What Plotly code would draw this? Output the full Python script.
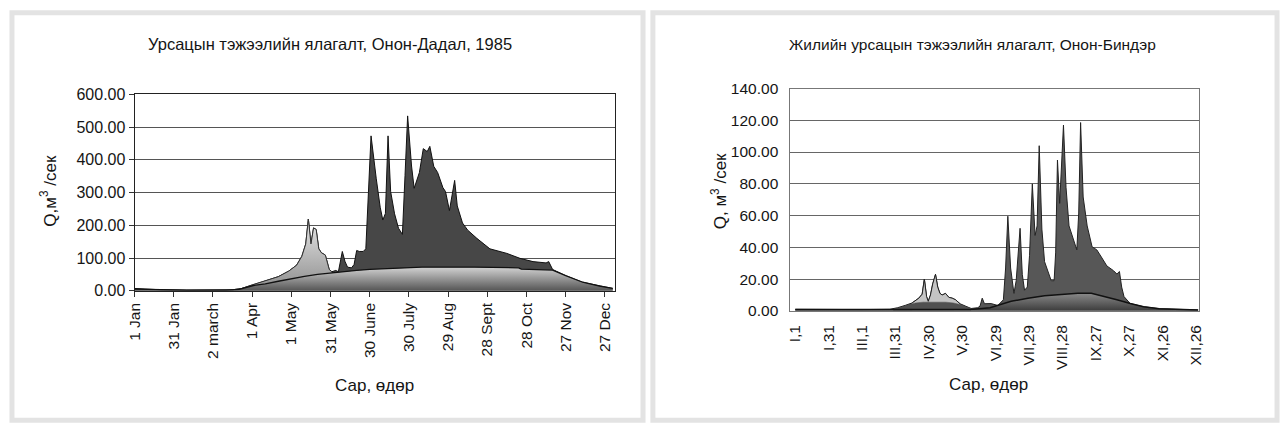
import plotly.graph_objects as go

W, H = 1285, 432

# ---------------- Онон-Дадал, 1985 (left) ----------------
dd_tick_days = [0, 30, 60, 90, 120, 150, 180, 210, 240, 270, 300, 330, 360]
dd_tick_text = ["1 Jan", "31 Jan", "2 march", "1 Apr", "1 May", "31 May", "30 June",
                "30 July", "29 Aug", "28 Sept", "28 Oct", "27 Nov", "27 Dec"]

dd_days = [0, 10, 20, 40, 60, 75, 82, 90, 100, 110, 118, 124, 128, 131, 133, 135, 137,
           139, 141, 143, 146, 149, 151, 154, 156, 159, 161, 163, 166, 168, 170, 172,
           175, 177, 178, 179, 181, 183, 185, 188, 190, 192, 194, 196, 199, 202, 205,
           207, 209, 212, 214, 218, 221, 224, 226, 229, 232, 236, 238, 241, 245, 247,
           251, 255, 262, 272, 285, 295, 305, 315, 317, 320, 330, 343, 356, 366]
dd_total = [7, 5, 3, 2, 2, 3, 7, 18, 30, 43, 60, 78, 105, 143, 219, 143, 192,
            187, 128, 116, 109, 65, 58, 62, 58, 120, 90, 72, 70, 80, 123, 120,
            120, 128, 200, 300, 473, 400, 342, 255, 216, 236, 473, 303, 235, 191, 172,
            352, 534, 381, 313, 361, 434, 425, 441, 380, 361, 315, 303, 245, 337, 259,
            207, 185, 160, 128, 114, 99, 89, 85, 89, 65, 46, 26, 14, 7]
dd_snow_from, dd_snow_to = 75, 151

dd_base_days = [0, 20, 40, 70, 80, 91, 100, 110, 120, 130, 140, 151, 160, 170, 180,
                190, 204, 220, 260, 294, 296, 318, 320, 330, 343, 356, 366]
dd_base = [5, 3, 2, 2, 4, 16, 21, 29, 37, 44, 50, 55, 59, 62, 65,
           67, 70, 72, 72, 70, 66, 64, 63, 46, 26, 14, 7]

# ---------------- Онон-Биндэр (right) ----------------
rb_tick_days = [0, 30, 60, 90, 120, 150, 180, 210, 240, 270, 300, 330, 360]
rb_tick_text = ["I,1", "I,31", "III,1", "III,31", "IV,30", "V,30", "VI,29", "VII,29",
                "VIII,28", "IX,27", "X,27", "XI,26", "XII,26"]

rb_days = [0, 30, 60, 85, 92, 99, 105, 111, 114, 116, 118, 119.5, 121.5, 123.5, 126,
           128, 130, 132, 135, 138, 141, 144, 148, 153, 158, 164, 166, 168, 170, 176,
           182, 187, 189, 191, 193.5, 196.5, 198.5, 202, 204, 206, 208.5, 210.5, 213,
           215.5, 217.3, 219.2, 221.6, 224, 227, 230, 232.6, 234, 235.6, 237.6, 241,
           243.3, 246, 250.4, 253, 254.7, 256.4, 258.7, 262.3, 266.7, 271, 275.6, 280,
           286, 289, 291.3, 293.3, 295.4, 299, 301, 313, 327, 342, 354, 362]
rb_total = [1.0, 0.8, 0.8, 1.0, 2, 3.5, 5, 8, 10.5, 20, 9, 6, 10, 17, 23,
            15, 11, 10, 11, 8.5, 8, 7, 4.5, 3, 1.5, 2, 3, 8, 4.5, 4.6,
            3.4, 7, 27, 59.6, 27, 11, 19, 52, 23, 13, 15, 35, 80,
            47.5, 53.5, 104, 51.5, 31, 25, 19, 19, 37, 95, 67.7, 117,
            77.8, 53.5, 43.4, 38.4, 61.6, 118.6, 71.7, 53.5, 40.4, 38.4, 33.3, 28.3,
            25.3, 23.2, 24.8, 15, 9, 6, 4.6, 2.6, 1.4, 1.0, 0.8, 0.6]
rb_snow_from, rb_snow_to = 105, 150

rb_spring_days = [88, 97, 103, 108, 115, 125, 135, 142, 148, 153, 158]
rb_spring_low = [1, 2.5, 4, 5, 5.5, 5.5, 5.5, 5, 4, 2.5, 1.5]

rb_base_days = [0, 60, 90, 150, 160, 175, 187, 194, 209, 224, 239, 254, 266, 278, 289,
                301, 313, 327, 342, 354, 362]
rb_base = [0.8, 0.8, 0.8, 0.8, 1.0, 2.0, 4.5, 6, 8, 9.5, 10.3, 11.1, 11.1, 9.1, 7,
           4.6, 2.6, 1.4, 1.0, 0.8, 0.6]


def px(x):
    return x / W


def py(y):
    return 1 - y / H


fig = go.Figure()

# left chart traces
fig.add_trace(go.Scatter(x=dd_days, y=dd_total, mode="lines", fill="tozeroy",
                         fillcolor="#474747", line=dict(color="#111111", width=1),
                         xaxis="x", yaxis="y", showlegend=False, hoverinfo="skip"))
snow_x = [d for d in dd_days if dd_snow_from <= d <= dd_snow_to]
snow_y = [q for d, q in zip(dd_days, dd_total) if dd_snow_from <= d <= dd_snow_to]
fig.add_trace(go.Scatter(x=snow_x, y=snow_y, mode="lines", fill="tozeroy",
                         fillgradient=dict(type="vertical",
                                           colorscale=[[0, "#8e8e8e"], [1, "#e6e6e6"]]),
                         line=dict(color="#333333", width=1),
                         xaxis="x", yaxis="y", showlegend=False, hoverinfo="skip"))
fig.add_trace(go.Scatter(x=dd_base_days, y=dd_base, mode="lines", fill="tozeroy",
                         fillgradient=dict(type="vertical",
                                           colorscale=[[0, "#555555"], [1, "#d2d2d2"]]),
                         line=dict(color="#111111", width=1.3),
                         xaxis="x", yaxis="y", showlegend=False, hoverinfo="skip"))

# right chart traces
fig.add_trace(go.Scatter(x=rb_days, y=rb_total, mode="lines", fill="tozeroy",
                         fillcolor="#575757", line=dict(color="#222222", width=1),
                         xaxis="x2", yaxis="y2", showlegend=False, hoverinfo="skip"))
rs_x = [d for d in rb_days if rb_snow_from <= d <= rb_snow_to]
rs_y = [q for d, q in zip(rb_days, rb_total) if rb_snow_from <= d <= rb_snow_to]
fig.add_trace(go.Scatter(x=rs_x, y=rs_y, mode="lines", fill="tozeroy",
                         fillcolor="#c4c4c4", line=dict(color="#222222", width=1),
                         xaxis="x2", yaxis="y2", showlegend=False, hoverinfo="skip"))
fig.add_trace(go.Scatter(x=rb_spring_days, y=rb_spring_low, mode="lines", fill="tozeroy",
                         fillcolor="#505050", line=dict(color="#505050", width=0.5),
                         xaxis="x2", yaxis="y2", showlegend=False, hoverinfo="skip"))
fig.add_trace(go.Scatter(x=rb_base_days, y=rb_base, mode="lines", fill="tozeroy",
                         fillgradient=dict(type="vertical",
                                           colorscale=[[0, "#3c3c3c"], [1, "#8a8a8a"]]),
                         line=dict(color="#111111", width=1.5),
                         xaxis="x2", yaxis="y2", showlegend=False, hoverinfo="skip"))

font = "Liberation Sans, Arial, sans-serif"
tc = "#151515"

fig.update_layout(
    width=W, height=H,
    margin=dict(l=0, r=0, t=0, b=0),
    paper_bgcolor="white", plot_bgcolor="white",
    font=dict(family=font, color=tc),
    xaxis=dict(domain=[px(127), px(613)], range=[0, 368], anchor="y",
               tickmode="array", tickvals=dd_tick_days, ticktext=dd_tick_text,
               tickangle=-90, ticks="outside", ticklen=5, tickcolor="#333",
               tickfont=dict(size=15.5, family=font, color=tc),
               showgrid=False, showline=True, linecolor="#222", linewidth=1,
               mirror=True, zeroline=False, fixedrange=True),
    yaxis=dict(domain=[py(294), py(89)], range=[0, 600], anchor="x",
               tickvals=[0, 100, 200, 300, 400, 500, 600], tickformat=".2f",
               ticks="outside", ticklen=5, tickcolor="#333",
               tickfont=dict(size=16, family=font, color=tc),
               showgrid=True, gridcolor="#555555", gridwidth=1,
               showline=True, linecolor="#222", linewidth=1, mirror=True,
               zeroline=False, fixedrange=True),
    xaxis2=dict(domain=[px(790), px(1203)], range=[-4.4, 362.7], anchor="y2",
                tickmode="array", tickvals=rb_tick_days, ticktext=rb_tick_text,
                tickangle=-90, ticks="", ticklabelstandoff=7,
                tickfont=dict(size=15.5, family=font, color=tc),
                showgrid=False, showline=True, linecolor="#777", linewidth=1,
                mirror=True, zeroline=False, fixedrange=True),
    yaxis2=dict(domain=[py(315), py(83)], range=[0, 140], anchor="x2",
                tickvals=[0, 20, 40, 60, 80, 100, 120, 140], tickformat=".2f",
                ticks="", ticklabelstandoff=8,
                tickfont=dict(size=15.5, family=font, color=tc),
                showgrid=True, gridcolor="#666666", gridwidth=1,
                showline=True, linecolor="#777", linewidth=1, mirror=True,
                zeroline=False, fixedrange=True),
    shapes=[
        dict(type="rect", xref="paper", yref="paper",
             x0=px(3), x1=px(641), y0=py(429), y1=py(4),
             line=dict(color="#e3e3e3", width=5), layer="below"),
        dict(type="rect", xref="paper", yref="paper",
             x0=px(651), x1=px(1282), y0=py(429), y1=py(4),
             line=dict(color="#e3e3e3", width=5), layer="below"),
    ],
    annotations=[
        dict(text="Урсацын тэжээлийн ялагалт, Онон-Дадал, 1985", x=px(325), y=py(37),
             xref="paper", yref="paper", showarrow=False, xanchor="center",
             yanchor="middle", font=dict(size=16.5, family=font, color=tc)),
        dict(text="Жилийн урсацын тэжээлийн ялагалт, Онон-Биндэр", x=px(974), y=py(37),
             xref="paper", yref="paper", showarrow=False, xanchor="center",
             yanchor="middle", font=dict(size=15.5, family=font, color=tc)),
        dict(text="Сар, өдөр", x=px(370), y=py(393), xref="paper", yref="paper",
             showarrow=False, xanchor="center", yanchor="middle",
             font=dict(size=17, family=font, color=tc)),
        dict(text="Сар, өдөр", x=px(990), y=py(392), xref="paper", yref="paper",
             showarrow=False, xanchor="center", yanchor="middle",
             font=dict(size=17, family=font, color=tc)),
        dict(text="Q,м<sup>3</sup> /сек", x=px(40), y=py(190), xref="paper", yref="paper",
             showarrow=False, textangle=-90, xanchor="center", yanchor="middle",
             font=dict(size=17, family=font, color=tc)),
        dict(text="Q, м<sup>3</sup> /сек", x=px(718), y=py(190), xref="paper", yref="paper",
             showarrow=False, textangle=-90, xanchor="center", yanchor="middle",
             font=dict(size=17, family=font, color=tc)),
    ],
)

fig.write_html("out.html")
